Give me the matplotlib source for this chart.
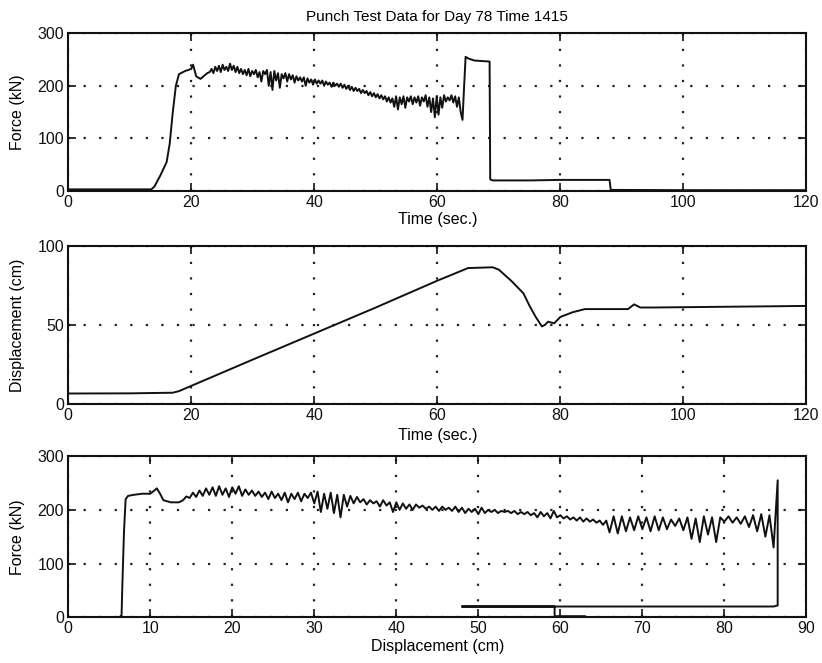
import numpy as np
import matplotlib
matplotlib.use("Agg")
import matplotlib.pyplot as plt

# ---------------- data ----------------
title = "Punch Test Data for Day 78 Time 1415"

# Panel 1: force vs time
force_t_pre = [0, 5, 10, 13.5, 14, 15, 16, 16.5, 17, 17.5, 18, 19, 20, 20.3, 20.8, 21.5, 22, 22.6]
force_f_pre = [3, 3, 3, 3, 8, 30, 55, 90, 150, 200, 222, 228, 232, 240, 218, 213, 218, 224]
noise_t0, noise_dt = 23.0, 0.3
force_f_noise = [
    226, 232, 224, 236, 228, 238, 226, 240, 230, 236,
    228, 242, 230, 238, 226, 236, 224, 232, 222, 230,
    220, 232, 218, 228, 222, 230, 216, 226, 208, 228,
    222, 230, 200, 226, 192, 228, 210, 224, 196, 222,
    214, 224, 208, 222, 212, 220, 206, 218, 210, 216,
    208, 216, 200, 214, 206, 212, 202, 212, 204, 210,
    204, 210, 200, 208, 202, 206, 198, 206, 200, 204,
    198, 204, 196, 202, 194, 200, 192, 198, 190, 196,
    190, 194, 186, 192, 186, 190, 182, 188, 180, 186,
    178, 184, 176, 182, 174, 180, 170, 178, 168, 176,
    160, 180, 155, 178, 165, 180, 158, 178, 170, 180,
    165, 178, 168, 180, 162, 178, 170, 182, 160, 178,
    150, 176, 140, 180, 145, 178, 158, 182, 170, 178,
    172, 182, 168, 180, 160, 178, 150, 135,
]
force_t_post = [64.3, 64.6, 65.0, 66.0, 68.5, 68.6, 69.0, 75.0, 80.0, 88.0, 88.2, 100.0, 120.0]
force_f_post = [185, 255, 252, 248, 246, 22, 20, 20, 21, 21, 2, 1.5, 1.5]

# Panel 2: displacement vs time
disp_t = [0, 10, 17, 18, 30, 40, 50, 60, 65, 69, 70, 72, 74, 75, 76, 77, 77.5, 78, 79, 80,
          82, 84, 91, 92, 93, 95, 120]
disp_d = [6.5, 6.6, 7, 8, 28, 44.5, 61, 78, 86, 86.5, 85, 78, 70, 62, 55, 49, 50, 52, 51, 55,
          58, 60, 60, 63, 61, 61, 62]

# Panel 3: force vs displacement
fd_d_pre = [6.4, 6.5, 6.6, 6.8, 7.0, 7.3, 8.0, 9.0, 10.0, 10.5, 10.8, 11.2, 11.6, 12.5, 13.5]
fd_f_pre = [2, 2, 60, 160, 220, 226, 228, 230, 230, 236, 240, 230, 218, 214, 214]
segA_d0, segA_dd = 14.0, 0.4
fd_f_segA = [
    218, 225, 222, 232, 224, 236, 226, 240, 228, 242,
    226, 244, 228, 240, 224, 242, 230, 244, 226, 238,
    228, 236, 226, 234, 224, 232, 220, 234, 222, 230,
    218, 232, 214, 230, 220, 232, 216, 230, 222, 232,
    212, 234, 196, 230, 202, 232, 194, 228, 186, 228,
    206, 226, 212, 224, 214, 220, 210, 218, 212, 216,
    206, 218, 208, 214, 196, 214, 200, 212, 202, 210,
    200, 210, 204, 208, 202, 206, 200, 206, 198, 206,
    200, 204, 198, 206, 196, 204, 194, 202, 196, 202,
    192, 204, 194, 200, 196, 200, 194, 198, 196, 198,
    194, 198, 192, 196, 192, 196, 190, 194, 186, 196,
    188, 194, 184, 198, 186, 190, 184, 188, 182, 186,
    180, 186, 178, 184, 178, 182, 176, 180, 172, 180,
]
segB_d0, segB_dd = 66.0, 0.5
fd_f_segB = [
    158, 188, 156, 188, 160, 186, 162, 188, 164, 186,
    160, 188, 162, 186, 164, 182, 170, 184, 162, 186,
    146, 184, 140, 188, 154, 186, 140, 186, 178, 188,
    176, 186, 174, 188, 168, 190, 160, 192, 150, 190,
]
fd_d_post = [86.0, 86.5, 86.5, 86.0, 70.0, 48.0, 55.0, 60.0, 59.3, 59.3, 63.0]
fd_f_post = [130, 255, 22, 20, 20, 20, 20, 20, 20, 2, 2]

# ---------------- build series ----------------
noise_t = noise_t0 + noise_dt * np.arange(len(force_f_noise))
t1 = np.concatenate([force_t_pre, noise_t, force_t_post])
f1 = np.concatenate([force_f_pre, force_f_noise, force_f_post])

dA = segA_d0 + segA_dd * np.arange(len(fd_f_segA))
dB = segB_d0 + segB_dd * np.arange(len(fd_f_segB))
d3 = np.concatenate([fd_d_pre, dA, dB, fd_d_post])
f3 = np.concatenate([fd_f_pre, fd_f_segA, fd_f_segB, fd_f_post])

# ---------------- style ----------------
plt.rcParams['font.family'] = ['Liberation Sans', 'DejaVu Sans']
plt.rcParams['font.size'] = 11
LINE = '#111111'

fig = plt.figure(figsize=(8.22, 6.63), dpi=100)
fig.patch.set_facecolor('white')

def style(ax, xlim, ylim, xt, yt, xlabel, ylabel, xl_y):
    ax.set_xlim(*xlim)
    ax.set_ylim(*ylim)
    ax.set_xticks(xt)
    ax.set_yticks(yt)
    ax.tick_params(direction='in', length=6, width=1.2, top=True, right=True,
                   labelsize=11.5, pad=3, colors='#111111')
    for s in ax.spines.values():
        s.set_linewidth(1.5)
        s.set_color('#111111')
    ax.grid(True, color='#222222', linestyle=(0, (1, 6)), linewidth=1.6)
    ax.set_axisbelow(True)
    ax.set_xlabel(xlabel, fontsize=11.5)
    ax.set_ylabel(ylabel, fontsize=11.5)
    ax.yaxis.set_label_coords(-0.058, 0.5)
    ax.xaxis.set_label_coords(0.5, xl_y)

ax1 = fig.add_axes([0.083, 0.712, 0.898, 0.238])
ax1.plot(t1, f1, color=LINE, lw=1.4)
style(ax1, (0, 120), (0, 300), range(0, 121, 20), range(0, 301, 100), "Time (sec.)", "Force (kN)", -0.135)
ax1.set_title(title, fontsize=11, pad=9)

ax2 = fig.add_axes([0.083, 0.391, 0.898, 0.238])
ax2.plot(disp_t, disp_d, color=LINE, lw=1.4)
style(ax2, (0, 120), (0, 100), range(0, 121, 20), range(0, 101, 50), "Time (sec.)", "Displacement (cm)", -0.155)

ax3 = fig.add_axes([0.083, 0.069, 0.898, 0.243])
ax3.plot(d3, f3, color=LINE, lw=1.4)
style(ax3, (0, 90), (0, 300), range(0, 91, 10), range(0, 301, 100), "Displacement (cm)", "Force (kN)", -0.135)

fig.savefig("out.png", dpi=100, facecolor='white')
